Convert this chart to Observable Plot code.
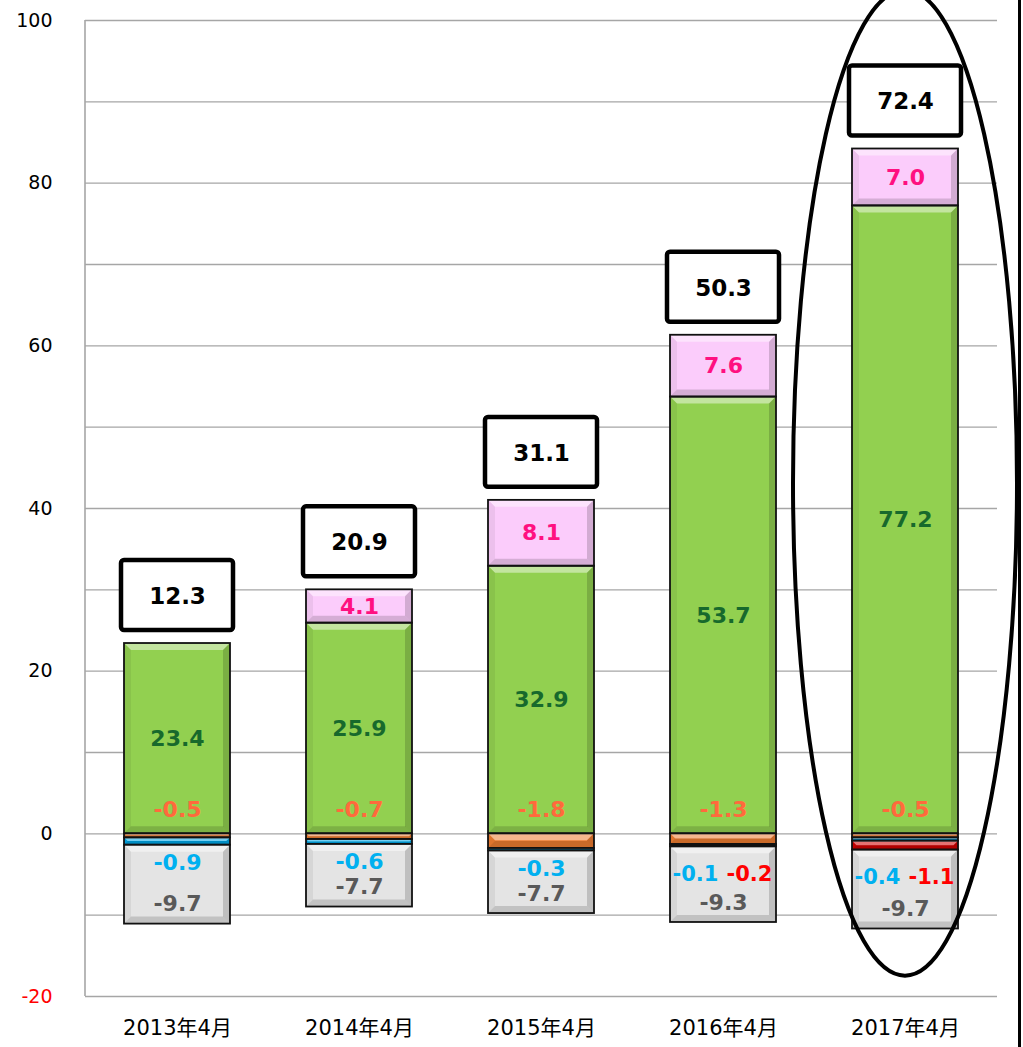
<!DOCTYPE html>
<html><head><meta charset="utf-8">
<script src="https://cdn.jsdelivr.net/npm/d3@7"></script>
<script src="https://cdn.jsdelivr.net/npm/@observablehq/plot@0.6"></script>
<style>
body{margin:0;background:#fff;}
#wrap{position:relative;width:1023px;height:1047px;overflow:hidden;background:#fff;}
#edge{position:absolute;left:1018px;top:0;width:3px;height:1047px;background:#000;}
</style></head><body><div id="wrap"><div id="edge"></div></div>
<script>
// ---- data ----
const categories = ["2013年4月", "2014年4月", "2015年4月", "2016年4月", "2017年4月"];
const pinkValues   = [0, 4.1, 8.1, 7.6, 7.0];
const greenValues  = [23.4, 25.9, 32.9, 53.7, 77.2];
const orangeValues = [-0.5, -0.7, -1.8, -1.3, -0.5];
const blueValues   = [-0.9, -0.6, -0.3, -0.1, -0.4];
const redValues    = [0, 0, 0, -0.2, -1.1];
const grayValues   = [-9.7, -7.7, -7.7, -9.3, -9.7];
const totalValues  = [12.3, 20.9, 31.1, 50.3, 72.4];
const yTicks = [-20, 0, 20, 40, 60, 80, 100];
const gridTicks = [-20, -10, 0, 10, 20, 30, 40, 50, 60, 70, 80, 90, 100];
const highlighted = "2017年4月";

const colors = {green:"#92d050", pink:"#fbccfb", orange:"#ed7d31", blue:"#00a6e6", red:"#d00000", gray:"#e4e4e4"};

// build table
const rows = categories.map((cat, i) => {
  const g = greenValues[i], p = pinkValues[i], o = orangeValues[i], b = blueValues[i], r = redValues[i], gr = grayValues[i];
  return {cat, green:g, pink:p, orange:o, blue:b, red:r, gray:gr, total:totalValues[i],
    top: g + p, grayTop: o + b + r, bottom: o + b + r + gr};
});
const segments = [];
rows.forEach(d => {
  segments.push({cat:d.cat, key:"green", y1:0, y2:d.green});
  if (d.pink) segments.push({cat:d.cat, key:"pink", y1:d.green, y2:d.top});
  let acc = 0;
  for (const key of ["orange", "blue", "red", "gray"]) {
    if (d[key]) { segments.push({cat:d.cat, key, y1:acc, y2:acc + d[key]}); acc += d[key]; }
  }
});
const fmt = v => v.toFixed(1);
const font = "'DejaVu Sans', Verdana, 'Noto Sans CJK JP', sans-serif";
const LFS = 22;

const chart = Plot.plot({
  width: 1023, height: 1047,
  marginLeft: 85, marginRight: 26, marginTop: 20, marginBottom: 51,
  style: {fontFamily: font, background: "transparent", overflow: "visible"},
  x: {domain: categories, paddingInner: 0.42, paddingOuter: 0.21, label: null},
  y: {domain: [-20, 100], label: null},
  marks: [
    Plot.gridY(gridTicks, {stroke: "#a6a6a6", strokeOpacity: 1, strokeWidth: 1.4}),
    Plot.axisY(yTicks, {tickSize: 0, tickPadding: 33, fontSize: 19, fill: "#000", tickFormat: d => String(d), label: null}),
    Plot.axisX({tickSize: 0, tickPadding: 24, fontSize: 21, fill: "#000", label: null}),
    Plot.barY(segments, {x: "cat", y1: "y1", y2: "y2", fill: d => colors[d.key], className: "segs"}),
    // total boxes
    Plot.barY(rows, {x: "cat", y1: d => d.top + 1.6, y2: d => d.top + 10.2, insetLeft: -3, insetRight: -3,
      fill: "#fff", stroke: "#000", strokeWidth: 4.5, rx: 3}),
    Plot.text(rows, {x: "cat", y: "top", dy: -47, text: d => fmt(d.total), fontSize: 23, fontWeight: "bold", fill: "#000"}),
    // green
    Plot.text(rows, {x: "cat", y: d => d.green / 2, text: d => fmt(d.green), fontSize: LFS, fontWeight: "bold", fill: "#17692c"}),
    // pink
    Plot.text(rows.filter(d => d.pink), {x: "cat", y: d => d.green + d.pink / 2, text: d => fmt(d.pink), fontSize: LFS, fontWeight: "bold", fill: "#ff1080"}),
    // orange
    Plot.text(rows, {x: "cat", y: 0, dy: -24, text: d => fmt(d.orange), fontSize: LFS, fontWeight: "bold", fill: "#ff6a3c"}),
    // blue single
    Plot.text(rows.filter(d => !d.red), {x: "cat", y: "grayTop", dy: 18, text: d => fmt(d.blue), fontSize: LFS, fontWeight: "bold", fill: "#00b0f0"}),
    // blue + red pair
    Plot.text(rows.filter(d => d.red), {x: "cat", y: "grayTop", dy: 27, dx: -28, text: d => fmt(d.blue), fontSize: 21, fontWeight: "bold", fill: "#00b0f0"}),
    Plot.text(rows.filter(d => d.red), {x: "cat", y: "grayTop", dy: 27, dx: 26, text: d => fmt(d.red), fontSize: 21, fontWeight: "bold", fill: "#ff0000"}),
    // gray
    Plot.text(rows, {x: "cat", y: "bottom", dy: -20, text: d => fmt(d.gray), fontSize: LFS, fontWeight: "bold", fill: "#595959"})
  ]
});
document.getElementById("wrap").prepend(chart);

// post decorations: bevel, outlines, axis line, highlight ellipse
const svg = d3.select(chart);
const xs = chart.scale("x"), ys = chart.scale("y");
svg.selectAll("text").filter(function(){ return this.textContent === "-20"; }).attr("fill", "#ff0000");

const bevelG = svg.append("g");
svg.selectAll("g.segs rect").each(function(){
  const r = d3.select(this);
  const x = +r.attr("x"), y = +r.attr("y"), w = +r.attr("width"), h = +r.attr("height");
  const b = Math.min(7, h / 2, w / 2);
  const P = pts => pts.map(p => p.join(",")).join(" ");
  bevelG.append("polygon").attr("points", P([[x,y],[x+w,y],[x+w-b,y+b],[x+b,y+b]])).attr("fill", "#fff").attr("fill-opacity", 0.45);
  bevelG.append("polygon").attr("points", P([[x,y+h],[x+w,y+h],[x+w-b,y+h-b],[x+b,y+h-b]])).attr("fill", "#000").attr("fill-opacity", 0.15);
  bevelG.append("polygon").attr("points", P([[x,y],[x+b,y+b],[x+b,y+h-b],[x,y+h]])).attr("fill", "#000").attr("fill-opacity", 0.06);
  bevelG.append("polygon").attr("points", P([[x+w,y],[x+w-b,y+b],[x+w-b,y+h-b],[x+w,y+h]])).attr("fill", "#000").attr("fill-opacity", 0.16);
  bevelG.append("rect").attr("x", x).attr("y", y).attr("width", w).attr("height", h)
    .attr("fill", "none").attr("stroke", "#111").attr("stroke-width", 1.8);
});
// move the total boxes/labels above bevel
svg.selectAll("g[aria-label='bar']").filter((d, i, n) => i > 0).raise();
svg.selectAll("g[aria-label='text']").raise();

// left axis line
svg.append("line").attr("x1", 85).attr("x2", 85).attr("y1", ys.apply(100)).attr("y2", ys.apply(-20))
  .attr("stroke", "#a6a6a6").attr("stroke-width", 1.6);

// ellipse around the highlighted column
const cx = xs.apply(highlighted) + xs.bandwidth / 2;
const yTop = ys.apply(103.7), yBot = ys.apply(-17.5);
svg.append("ellipse").attr("cx", cx).attr("cy", (yTop + yBot) / 2).attr("rx", 112).attr("ry", (yBot - yTop) / 2)
  .attr("fill", "none").attr("stroke", "#000").attr("stroke-width", 4);
</script></body></html>
